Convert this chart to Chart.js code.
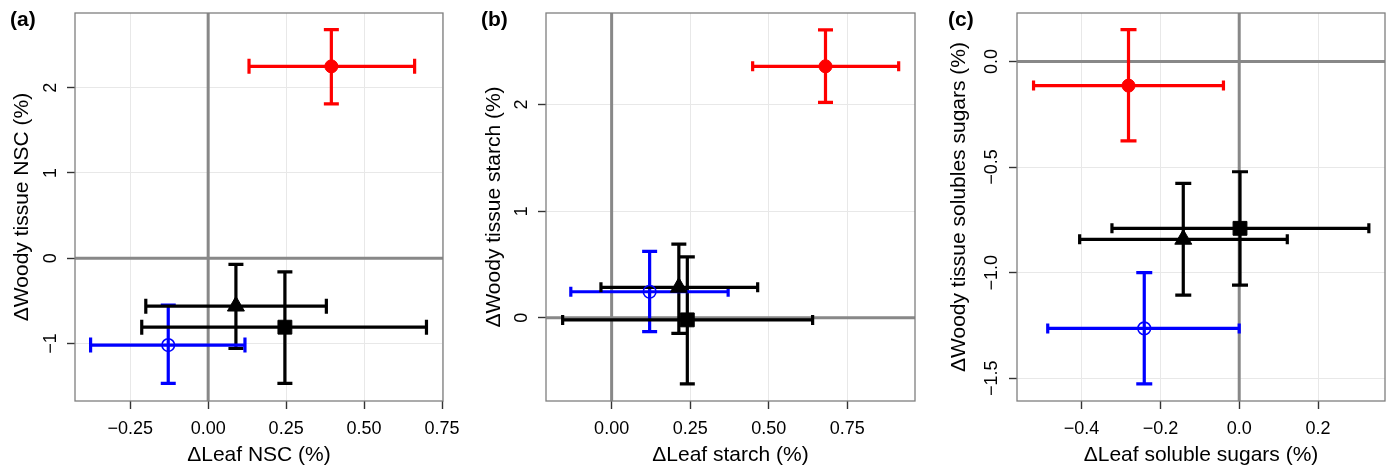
<!DOCTYPE html>
<html><head><meta charset="utf-8">
<script src="https://cdn.jsdelivr.net/npm/chart.js@4/dist/chart.umd.min.js"></script>
<style>
html,body{margin:0;padding:0;background:#fff;}
#wrap{position:relative;width:1391px;height:471px;background:#fff;}
.p{position:absolute;top:0;height:471px;}
canvas{display:block;}
</style></head><body>
<div id="wrap">
<div class="p" style="left:0;width:460px"><canvas id="ca" width="460" height="471"></canvas></div>
<div class="p" style="left:460px;width:460px"><canvas id="cb" width="460" height="471"></canvas></div>
<div class="p" style="left:920px;width:471px"><canvas id="cc" width="471" height="471"></canvas></div>
</div>
<script>
// Group order in every panel: red filled circle, blue open circle, black triangle, black square
const groups = ['red circle', 'blue open circle', 'black triangle', 'black square'];

// Panel (a): NSC
const aX   = [0.395, -0.128, 0.089, 0.246];
const aXLo = [0.131, -0.377, -0.200, -0.213];
const aXHi = [0.662, 0.118, 0.379, 0.700];
const aY   = [2.25, -1.02, -0.563, -0.81];
const aYLo = [1.81, -1.47, -1.06, -1.47];
const aYHi = [2.68, -0.55, -0.074, -0.16];
const aXTicks = [-0.25, 0, 0.25, 0.5, 0.75];
const aXTickLabels = ['\u22120.25', '0.00', '0.25', '0.50', '0.75'];
const aYTicks = [-1, 0, 1, 2];
const aYTickLabels = ['\u22121', '0', '1', '2'];

// Panel (b): starch
const bX   = [0.681, 0.121, 0.214, 0.241];
const bXLo = [0.449, -0.130, -0.034, -0.156];
const bXHi = [0.914, 0.371, 0.465, 0.640];
const bY   = [2.359, 0.244, 0.285, -0.02];
const bYLo = [2.02, -0.131, -0.147, -0.621];
const bYHi = [2.70, 0.622, 0.69, 0.571];
const bXTicks = [0, 0.25, 0.5, 0.75];
const bXTickLabels = ['0.00', '0.25', '0.50', '0.75'];
const bYTicks = [0, 1, 2];
const bYTickLabels = ['0', '1', '2'];

// Panel (c): soluble sugars
const cX   = [-0.281, -0.241, -0.142, 0.002];
const cXLo = [-0.522, -0.486, -0.405, -0.323];
const cXHi = [-0.040, 0.0, 0.122, 0.329];
const cY   = [-0.114, -1.264, -0.842, -0.790];
const cYLo = [-0.376, -1.527, -1.106, -1.059];
const cYHi = [0.151, -1.0, -0.577, -0.522];
const cXTicks = [-0.4, -0.2, 0, 0.2];
const cXTickLabels = ['\u22120.4', '\u22120.2', '0.0', '0.2'];
const cYTicks = [-1.5, -1.0, -0.5, 0];
const cYTickLabels = ['\u22121.5', '\u22121.0', '\u22120.5', '0.0'];

const FONT = '"Liberation Sans", Arial, Helvetica, sans-serif';
const markerStyles = [
  {shape: 'circle',   r: 6.5, fill: '#ff0000', stroke: '#ff0000', bw: 1,   bar: '#ff0000'},
  {shape: 'circle',   r: 6.3, fill: 'rgba(0,0,0,0)', stroke: '#0000ff', bw: 1.6, bar: '#0000ff'},
  {shape: 'triangle', r: 9.8, fill: '#000000', stroke: '#000000', bw: 1,   bar: '#000000'},
  {shape: 'rect',     r: 9.8, fill: '#000000', stroke: '#000000', bw: 1,   bar: '#000000'}
];

function labelFor(vals, labs, v) {
  const i = vals.findIndex(t => Math.abs(t - v) < 1e-9);
  return i >= 0 ? labs[i] : '';
}

function makePanel(id, p) {
  const plugin = {
    id: 'panelDecor_' + id,
    beforeDatasetsDraw(chart) {
      const {ctx, chartArea: ca, scales: {x, y}} = chart;
      ctx.save();
      // zero reference lines
      ctx.strokeStyle = '#888888';
      ctx.lineWidth = 3;
      const x0 = x.getPixelForValue(0), y0 = y.getPixelForValue(0);
      ctx.beginPath();
      ctx.moveTo(x0, ca.top); ctx.lineTo(x0, ca.bottom);
      ctx.moveTo(ca.left, y0); ctx.lineTo(ca.right, y0);
      ctx.stroke();
      // error bars
      ctx.lineWidth = 3.2;
      ctx.lineCap = 'butt';
      for (let i = 0; i < p.X.length; i++) {
        ctx.strokeStyle = markerStyles[i].bar;
        const px = x.getPixelForValue(p.X[i]);
        const ylo = y.getPixelForValue(p.YLo[i]);
        const yhi = y.getPixelForValue(p.YHi[i]);
        ctx.beginPath();
        ctx.moveTo(px, ylo); ctx.lineTo(px, yhi);
        ctx.moveTo(px - p.capY / 2, ylo); ctx.lineTo(px + p.capY / 2, ylo);
        ctx.moveTo(px - p.capY / 2, yhi); ctx.lineTo(px + p.capY / 2, yhi);
        ctx.stroke();
      }
      for (let i = 0; i < p.X.length; i++) {
        ctx.strokeStyle = markerStyles[i].bar;
        const py = y.getPixelForValue(p.Y[i]);
        const xlo = x.getPixelForValue(p.XLo[i]);
        const xhi = x.getPixelForValue(p.XHi[i]);
        ctx.beginPath();
        ctx.moveTo(xlo, py); ctx.lineTo(xhi, py);
        ctx.moveTo(xlo, py - p.capX / 2); ctx.lineTo(xlo, py + p.capX / 2);
        ctx.moveTo(xhi, py - p.capX / 2); ctx.lineTo(xhi, py + p.capX / 2);
        ctx.stroke();
      }
      ctx.restore();
    },
    afterDraw(chart) {
      const {ctx, chartArea: ca, scales: {y}} = chart;
      ctx.save();
      // panel border
      ctx.strokeStyle = '#7f7f7f';
      ctx.lineWidth = 1.3;
      ctx.strokeRect(ca.left, ca.top, ca.right - ca.left, ca.bottom - ca.top);
      // rotated y tick labels
      ctx.fillStyle = '#000';
      ctx.font = '18px ' + FONT;
      ctx.textAlign = 'center';
      ctx.textBaseline = 'middle';
      y.ticks.forEach(t => {
        const py = y.getPixelForValue(t.value);
        ctx.save();
        ctx.translate(ca.left - p.yLabelDist, py);
        ctx.rotate(-Math.PI / 2);
        ctx.fillText(labelFor(p.yTicks, p.yTickLabels, t.value), 0, 0);
        ctx.restore();
      });
      // panel tag
      ctx.font = 'bold 21px ' + FONT;
      ctx.textAlign = 'left';
      ctx.textBaseline = 'alphabetic';
      ctx.fillText(p.tag, p.tagX, 26);
      ctx.restore();
    }
  };

  return new Chart(document.getElementById(id), {
    type: 'scatter',
    data: {
      datasets: groups.map((g, i) => ({
        label: g,
        data: [{x: p.X[i], y: p.Y[i]}],
        pointStyle: markerStyles[i].shape,
        pointRadius: markerStyles[i].r,
        pointHoverRadius: markerStyles[i].r,
        backgroundColor: markerStyles[i].fill,
        borderColor: markerStyles[i].stroke,
        borderWidth: markerStyles[i].bw
      }))
    },
    options: {
      responsive: false,
      animation: false,
      devicePixelRatio: 1,
      events: [],
      layout: {autoPadding: false, padding: {left: 0, top: 13, right: p.padRight, bottom: 0}},
      plugins: {legend: {display: false}, tooltip: {enabled: false}},
      scales: {
        x: {
          type: 'linear', position: 'bottom',
          min: p.xMin, max: p.xMax,
          afterBuildTicks: s => { s.ticks = p.xTicks.map(v => ({value: v})); },
          afterFit: s => { s.height = 70; s.paddingLeft = 0; s.paddingRight = 0; s.paddingTop = 0; s.paddingBottom = 0; },
          border: {display: false},
          grid: {color: '#e8e8e8', lineWidth: 1, drawTicks: true, tickLength: 8, tickColor: '#333333', tickWidth: 1.4},
          ticks: {autoSkip: false, maxRotation: 0, minRotation: 0, padding: 9, color: '#000',
                  font: {family: FONT, size: 18},
                  callback: v => labelFor(p.xTicks, p.xTickLabels, v)},
          title: {display: true, text: p.xTitle, color: '#000', font: {family: FONT, size: 21},
                  padding: {top: 0, bottom: 3.5}}
        },
        y: {
          type: 'linear', position: 'left',
          min: p.yMin, max: p.yMax,
          afterBuildTicks: s => { s.ticks = p.yTicks.map(v => ({value: v})); },
          afterFit: s => { s.width = p.leftW; s.paddingLeft = 0; s.paddingRight = 0; s.paddingTop = 0; s.paddingBottom = 0; },
          border: {display: false},
          grid: {color: '#e8e8e8', lineWidth: 1, drawTicks: true, tickLength: 8, tickColor: '#333333', tickWidth: 1.4},
          ticks: {autoSkip: false, color: 'rgba(0,0,0,0)', font: {family: FONT, size: 18},
                  callback: v => labelFor(p.yTicks, p.yTickLabels, v)},
          title: {display: true, text: p.yTitle, color: '#000', font: {family: FONT, size: 21},
                  padding: {top: p.yTitlePad, bottom: 0}}
        }
      }
    },
    plugins: [plugin]
  });
}

makePanel('ca', {
  X: aX, XLo: aXLo, XHi: aXHi, Y: aY, YLo: aYLo, YHi: aYHi,
  xTicks: aXTicks, xTickLabels: aXTickLabels, yTicks: aYTicks, yTickLabels: aYTickLabels,
  xMin: -0.427, xMax: 0.753, yMin: -1.676, yMax: 2.876,
  xTitle: '\u0394Leaf NSC (%)', yTitle: '\u0394Woody tissue NSC (%)',
  leftW: 75, padRight: 17, yTitlePad: 9.3, yLabelDist: 23.5,
  capX: 15, capY: 15, tag: '(a)', tagX: 10
});
makePanel('cb', {
  X: bX, XLo: bXLo, XHi: bXHi, Y: bY, YLo: bYLo, YHi: bYHi,
  xTicks: bXTicks, xTickLabels: bXTickLabels, yTicks: bYTicks, yTickLabels: bYTickLabels,
  xMin: -0.209, xMax: 0.966, yMin: -0.781, yMax: 2.859,
  xTitle: '\u0394Leaf starch (%)', yTitle: '\u0394Woody tissue starch (%)',
  leftW: 86, padRight: 5, yTitlePad: 21.8, yLabelDist: 23.5,
  capX: 10, capY: 15, tag: '(b)', tagX: 21
});
makePanel('cc', {
  X: cX, XLo: cXLo, XHi: cXHi, Y: cY, YLo: cYLo, YHi: cYHi,
  xTicks: cXTicks, xTickLabels: cXTickLabels, yTicks: cYTicks, yTickLabels: cYTickLabels,
  xMin: -0.564, xMax: 0.370, yMin: -1.608, yMax: 0.230,
  xTitle: '\u0394Leaf soluble sugars (%)', yTitle: '\u0394Woody tissue solubles sugars (%)',
  leftW: 97, padRight: 6, yTitlePad: 26.8, yLabelDist: 25,
  capX: 10, capY: 16, tag: '(c)', tagX: 28
});
</script>
</body></html>
